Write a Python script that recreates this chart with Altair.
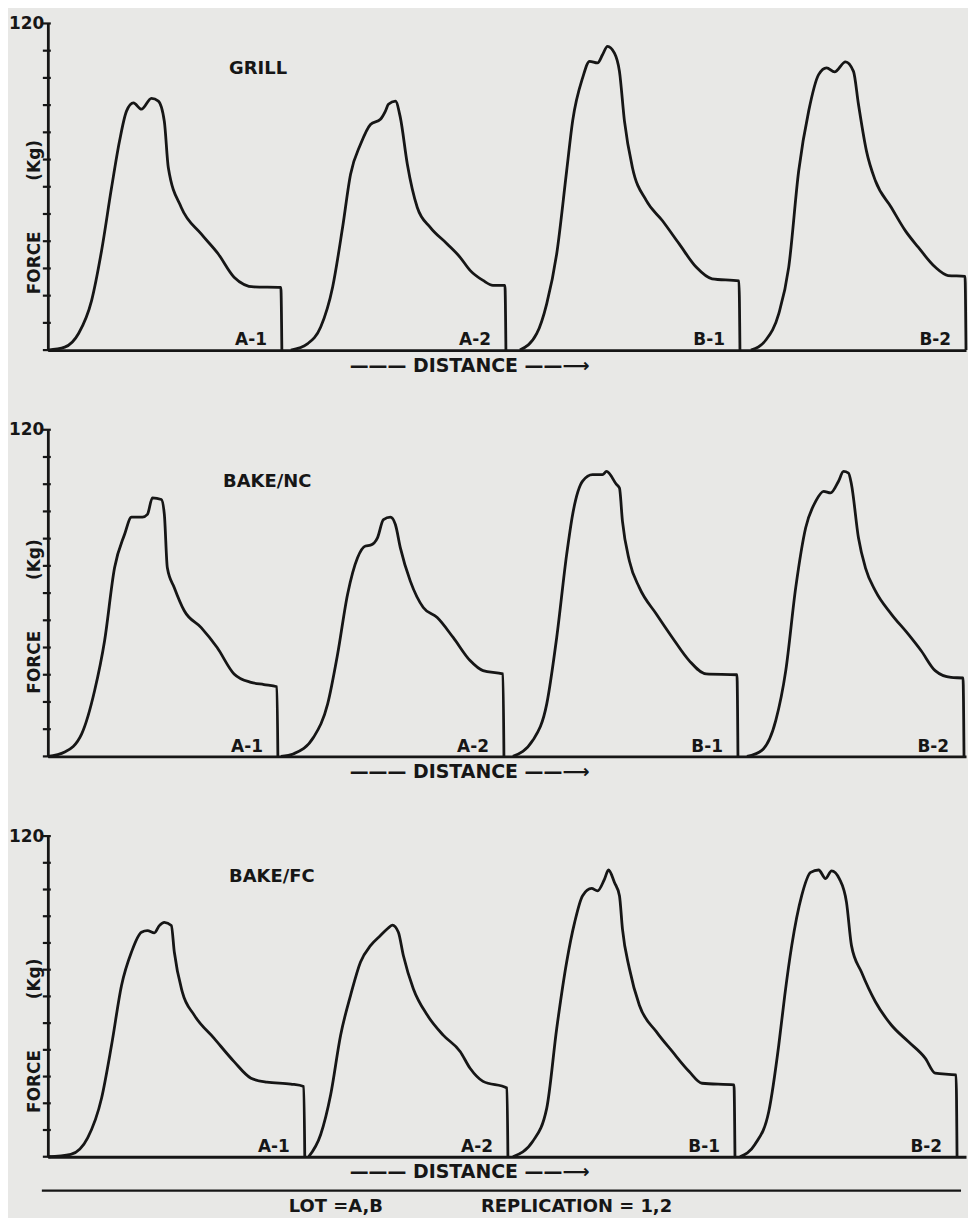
import altair as alt
import pandas as pd

# ---------------- data ----------------
PANELS = ["GRILL", "BAKE/NC", "BAKE/FC"]
CURVES = ["A-1", "A-2", "B-1", "B-2"]
Y_TICKS = [0, 10, 20, 30, 40, 50, 60, 70, 80, 90, 100, 110, 120]

# GRILL
GRILL_A1_X = [0, 17, 31, 44, 54, 64, 72, 79, 86, 94, 104, 111, 117, 121, 134, 154, 171, 187, 207, 234, 235]
GRILL_A1_Y = [0, 1.1, 6.2, 18.3, 36.6, 59.7, 76.8, 87.8, 90.8, 88.5, 92.5, 91.5, 84, 67, 52.4, 42.7, 35.4, 26.8, 23.2, 23, 0]
GRILL_A2_X = [244, 261, 274, 286, 296, 304, 314, 324, 334, 339, 342, 349, 354, 361, 371, 384, 401, 414, 424, 437, 447, 459, 460]
GRILL_A2_Y = [0, 2.4, 8.5, 23.2, 45.1, 64.6, 75.6, 82.9, 84.8, 87.8, 90.3, 91.5, 85.4, 68.3, 52.4, 45.1, 39.0, 34.1, 29.3, 25.6, 23.8, 23.8, 0]
GRILL_B1_X = [474, 491, 501, 511, 521, 527, 537, 544, 552, 557, 562, 569, 574, 579, 587, 601, 617, 634, 651, 667, 694, 695]
GRILL_B1_Y = [0, 6.1, 17.1, 35.4, 65.9, 84.2, 100, 106.1, 105.5, 108.5, 111.6, 109.1, 102.4, 84.2, 67.1, 54.9, 47.6, 39.0, 30.5, 26.2, 25.4, 0]
GRILL_B2_X = [706, 721, 734, 744, 754, 764, 774, 782, 790, 801, 809, 814, 822, 831, 847, 861, 874, 891, 904, 921, 922]
GRILL_B2_Y = [0, 3.7, 13.4, 30.5, 65.9, 87.8, 101.2, 103.7, 102.2, 105.9, 102.4, 90.3, 73.2, 62.2, 52.4, 43.9, 37.8, 30.5, 27.4, 27.1, 0]

# BAKE/NC
NC_A1_X = [0, 17, 34, 47, 57, 67, 77, 84, 95, 100, 105, 114, 117, 120, 127, 137, 154, 170, 187, 204, 217, 230, 231]
NC_A1_Y = [0, 1.6, 8.3, 24.2, 42.5, 69.3, 81.5, 87.9, 87.9, 88.9, 95, 94.4, 88.9, 69.3, 62, 53.5, 47.3, 40, 30.3, 27.2, 26.4, 25.6, 0]
NC_A2_X = [234, 247, 267, 281, 291, 301, 311, 319, 324, 331, 337, 344, 349, 354, 364, 377, 391, 407, 424, 437, 457, 458]
NC_A2_Y = [0, 1, 7.1, 19.3, 37.6, 59.6, 73, 77.3, 77.6, 80.3, 87, 87.9, 85.2, 76.6, 64.4, 54.7, 51, 43.7, 35.2, 31.5, 30.3, 0]
NC_B1_X = [467, 487, 501, 511, 521, 527, 537, 547, 557, 561, 571, 574, 577, 584, 594, 611, 627, 644, 661, 692, 693]
NC_B1_Y = [0, 5.9, 19.3, 43.7, 74.2, 88.9, 101.1, 103.5, 103.5, 104.7, 99.9, 98.6, 86.4, 71.8, 62, 52.3, 43.7, 35.2, 30.3, 30, 0]
NC_B2_X = [702, 717, 731, 741, 751, 761, 771, 779, 786, 794, 799, 804, 807, 814, 821, 831, 847, 864, 877, 891, 907, 919, 920]
NC_B2_Y = [0, 2.2, 13.2, 31.5, 62, 84, 93.7, 97.4, 96.8, 101.1, 104.7, 104.1, 99.9, 80.3, 69.3, 60.8, 52.3, 44.9, 38.8, 31.5, 29, 28.8, 0]

# BAKE/FC
FC_A1_X = [0, 23, 40, 54, 64, 74, 84, 94, 100, 107, 112, 117, 124, 127, 135, 147, 167, 187, 204, 220, 244, 257, 258]
FC_A1_Y = [0, 0.9, 7.1, 22, 41.8, 64.1, 76.6, 84, 84.6, 83.8, 86.5, 87.7, 86.5, 76.6, 61.7, 53, 44.3, 35.6, 29.4, 27.9, 27.2, 26.3, 0]
FC_A2_X = [262, 274, 284, 294, 304, 314, 324, 334, 341, 346, 352, 357, 367, 381, 397, 414, 424, 437, 461, 462]
FC_A2_Y = [0, 8.3, 23.2, 45.5, 60.4, 72.9, 79, 82.8, 85.3, 86.7, 84, 75.3, 62.9, 53, 45.5, 39.4, 33.1, 28.2, 25.7, 0]
FC_B1_X = [467, 487, 501, 511, 521, 529, 537, 546, 552, 559, 563, 569, 574, 577, 584, 594, 611, 627, 644, 657, 689, 690]
FC_B1_Y = [0, 5.8, 18.2, 48, 72.9, 87.7, 97.7, 100.4, 99.5, 103.9, 107.3, 102.6, 97.7, 85.3, 70.4, 56.7, 46.8, 39.4, 31.9, 27.5, 26.9, 0]
FC_B2_X = [695, 710, 724, 734, 740, 747, 757, 766, 774, 781, 787, 795, 802, 807, 817, 831, 847, 864, 881, 891, 912, 913]
FC_B2_Y = [0, 4.6, 17, 41.8, 60.4, 79, 97.7, 106.4, 107.3, 104.1, 107, 103.9, 95.2, 79, 69.1, 58, 49.3, 43.1, 36.9, 31.3, 30.6, 0]

SERIES = {
    "GRILL": [(GRILL_A1_X, GRILL_A1_Y), (GRILL_A2_X, GRILL_A2_Y), (GRILL_B1_X, GRILL_B1_Y), (GRILL_B2_X, GRILL_B2_Y)],
    "BAKE/NC": [(NC_A1_X, NC_A1_Y), (NC_A2_X, NC_A2_Y), (NC_B1_X, NC_B1_Y), (NC_B2_X, NC_B2_Y)],
    "BAKE/FC": [(FC_A1_X, FC_A1_Y), (FC_A2_X, FC_A2_Y), (FC_B1_X, FC_B1_Y), (FC_B2_X, FC_B2_Y)],
}

# ---------------- styling ----------------
INK = "#161616"
BG = "#e8e8e6"
FONT = "DejaVu Sans"
WEIGHT = "bold"
LABEL_GAP = 15      # label right edge before the drop
LABEL_Y = 1.8       # label baseline (kg)

rows, lab_rows = [], []
for p in PANELS:
    for c, (xs, ys) in zip(CURVES, SERIES[p]):
        for i, (x, y) in enumerate(zip(xs, ys)):
            rows.append({"panel": p, "curve": c, "i": i, "x": x, "y": y})
        lab_rows.append({"panel": p, "curve": c, "x": xs[-1] - LABEL_GAP, "y": LABEL_Y})
df = pd.DataFrame(rows)
labdf = pd.DataFrame(lab_rows)
tickdf = pd.DataFrame({"v": Y_TICKS})


def panel(p, h, name_x, name_y, force_y, extras=None):
    x = alt.X("x:Q",
              scale=alt.Scale(domain=[0, 922], nice=False, zero=False),
              axis=alt.Axis(title="———  DISTANCE  ——⟶", labels=False, ticks=False, grid=False,
                            domainWidth=2.8, domainColor=INK, titleX=423, titleY=15,
                            titleBaseline="middle", titleAlign="center", titleFontSize=19,
                            titleFont=FONT, titleFontWeight=WEIGHT, titleColor=INK))
    y = alt.Y("y:Q",
              scale=alt.Scale(domain=[0, 120], nice=False),
              axis=alt.Axis(values=Y_TICKS, labelExpr="datum.value == 120 ? '120' : ''",
                            grid=False, domainWidth=2.8, domainColor=INK, ticks=False,
                            tickSize=0, labelPadding=4, labelFont=FONT,
                            labelFontSize=17, labelFontWeight=WEIGHT, labelColor=INK,
                            labelFlush=False, labelBaseline="middle", labelOverlap=False,
                            title="FORCE\u2003\u2003\u2003(Kg)", titleAngle=270, titleX=-13,
                            titleY=force_y, titleAlign="center", titleBaseline="middle",
                            titleFont=FONT, titleFontSize=17, titleFontWeight=WEIGHT,
                            titleColor=INK))
    line = alt.Chart(df[df.panel == p]).mark_line(
        interpolate="monotone", color=INK, strokeWidth=2.8, strokeJoin="round"
    ).encode(x=x, y=y, detail="curve:N", order="i:Q")
    ticks = alt.Chart(tickdf).mark_rule(color=INK, strokeWidth=2.2).encode(
        y=alt.Y("v:Q"), x=alt.value(-5), x2=alt.value(3))
    labels = alt.Chart(labdf[labdf.panel == p]).mark_text(
        align="right", baseline="alphabetic", font=FONT, fontSize=17, fontWeight=WEIGHT, color=INK
    ).encode(x="x:Q", y="y:Q", text="curve:N")
    name = alt.Chart(pd.DataFrame({"t": [p]})).mark_text(
        align="left", baseline="middle", font=FONT, fontSize=18, fontWeight=WEIGHT, color=INK
    ).encode(x=alt.value(name_x), y=alt.value(name_y), text="t:N")
    layers = [line, ticks, labels, name] + (extras or [])
    return alt.layer(*layers).properties(width=922, height=h)


footer_rule = alt.Chart(pd.DataFrame({"a": [0]})).mark_rule(color=INK, strokeWidth=2.4).encode(
    x=alt.value(-6), x2=alt.value(917), y=alt.value(322 + 34))
footer_text = alt.Chart(pd.DataFrame({"t": ["LOT =A,B", "REPLICATION = 1,2"], "px": [242, 435]})).mark_text(
    align="left", baseline="middle", font=FONT, fontSize=18, fontWeight=WEIGHT, color=INK
).encode(x=alt.X("px:Q", scale=None), y=alt.value(322 + 50), text="t:N")

p1 = panel("GRILL", 328, 182, 46, 194)
p2 = panel("BAKE/NC", 328, 176, 52, 187)
p3 = panel("BAKE/FC", 322, 182, 41, 200, extras=[footer_rule, footer_text])

chart = alt.vconcat(p1, p2, p3, spacing=46).configure(
    background=BG,
    padding={"left": 0, "top": 4, "right": 0, "bottom": 0},
).configure_view(stroke=None)

chart.save("out.html", embed_options={"renderer": "svg", "actions": False})
